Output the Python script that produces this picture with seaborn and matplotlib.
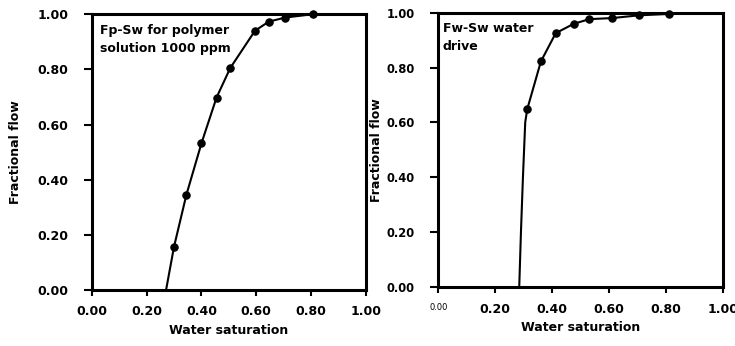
import numpy as np
import pandas as pd
import matplotlib
matplotlib.use("Agg")
import matplotlib.pyplot as plt
import seaborn as sns

# fractional flow data
# left panel: polymer solution 1000 ppm (markers)
sw_poly = [0.30, 0.345, 0.40, 0.455, 0.505, 0.595, 0.645, 0.705, 0.805]
fp_poly = [0.157, 0.345, 0.532, 0.698, 0.805, 0.94, 0.973, 0.988, 1.0]
# traced curve start (below the first marker)
sw_poly_start = [0.271]
fp_poly_start = [0.0]

# right panel: water drive (markers)
sw_water = [0.312, 0.36, 0.412, 0.475, 0.53, 0.61, 0.705, 0.81]
fw_water = [0.648, 0.822, 0.925, 0.959, 0.976, 0.98, 0.99, 0.995]
# traced steep part of the curve below the first marker
sw_water_start = [0.284, 0.29, 0.297, 0.305]
fw_water_start = [0.0, 0.2, 0.4, 0.6]

ticks = [0.0, 0.2, 0.4, 0.6, 0.8, 1.0]
tick_labels = ["0.00", "0.20", "0.40", "0.60", "0.80", "1.00"]

sns.set_style("ticks", {"axes.edgecolor": "black", "text.color": "black",
                        "xtick.color": "black", "ytick.color": "black",
                        "axes.labelcolor": "black"})
plt.rcParams['font.family'] = ['DejaVu Sans']
plt.rcParams['font.weight'] = 'bold'

fig = plt.figure(figsize=(7.35, 3.46), dpi=100)
ax1 = fig.add_axes([0.1248, 0.1618, 0.3732, 0.797])
ax2 = fig.add_axes([0.5963, 0.1697, 0.3878, 0.794])


def panel(ax, sw0, f0, sw, f, note, note_x, ylabel_x, ysize):
    line = pd.DataFrame({"sw": sw0 + sw, "f": f0 + f})
    pts = pd.DataFrame({"sw": sw, "f": f})
    sns.lineplot(data=line, x="sw", y="f", ax=ax, color="black", lw=1.5,
                 sort=False, estimator=None)
    sns.scatterplot(data=pts, x="sw", y="f", ax=ax, color="black", s=28,
                    edgecolor="black", linewidth=0.8, zorder=3, clip_on=False)
    ax.set_xlim(0, 1)
    ax.set_ylim(0, 1)
    ax.set_xticks(ticks)
    ax.set_xticklabels(tick_labels, fontsize=9, fontweight="bold")
    ax.set_yticks(ticks)
    ax.set_yticklabels(tick_labels, fontsize=ysize, fontweight="bold")
    ax.tick_params(axis="x", length=4, width=1.5, pad=7)
    ax.tick_params(axis="y", length=6, width=1.5, pad=11)
    for s in ax.spines.values():
        s.set_visible(True)
        s.set_linewidth(2.2)
        s.set_color("black")
    ax.set_xlabel("Water saturation", fontsize=9, fontweight="bold", labelpad=4)
    ax.set_ylabel("Fractional flow", fontsize=9, fontweight="bold")
    ax.yaxis.set_label_coords(ylabel_x, 0.5)
    ax.text(note_x, 0.965, note, transform=ax.transAxes, va="top", ha="left",
            fontsize=9, fontweight="bold", linespacing=1.5, color="black")


panel(ax1, sw_poly_start, fp_poly_start, sw_poly, fp_poly,
      "Fp-Sw for polymer\nsolution 1000 ppm", 0.03, -0.255, 9)
panel(ax2, sw_water_start, fw_water_start, sw_water, fw_water,
      "Fw-Sw water\ndrive", 0.015, -0.195, 8.3)

# the first x label of the right panel is printed small and plain
lab = ax2.get_xticklabels()[0]
lab.set_fontsize(6)
lab.set_fontweight("normal")

fig.savefig("out.png", dpi=100)
